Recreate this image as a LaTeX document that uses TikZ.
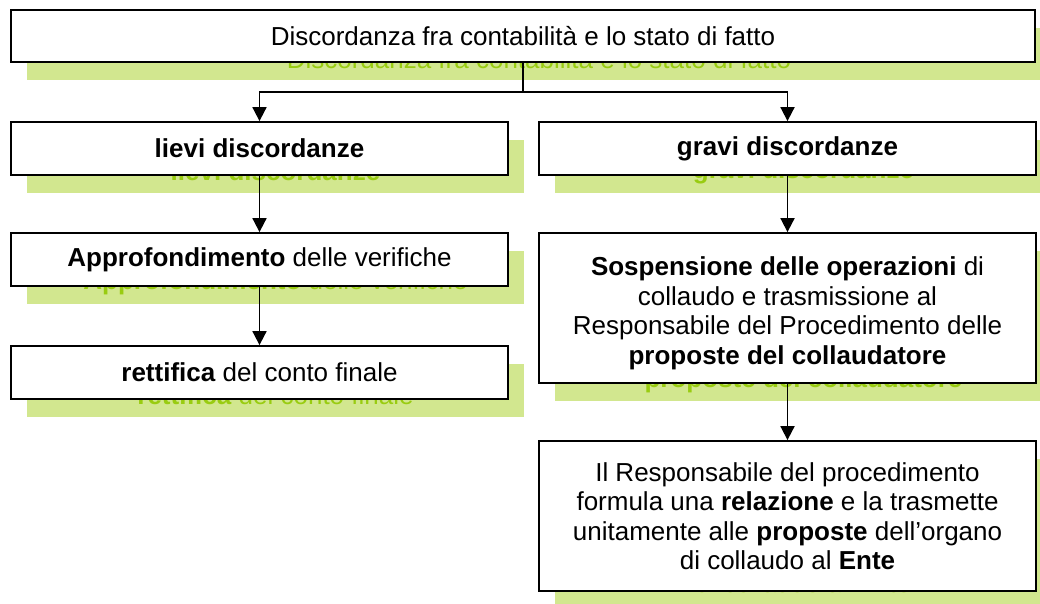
\documentclass[tikz,border=0pt]{standalone}
\usepackage{fontspec}
\setmainfont{Liberation Sans}
\usetikzlibrary{arrows.meta}
\definecolor{shadowgreen}{HTML}{D2E78F}
\definecolor{textgreen}{HTML}{99CC11}

\begin{document}
\begin{tikzpicture}[x=1pt, y=-1pt,
    flowbox/.style={draw, line width=1.8pt, fill=white, align=center, inner sep=0pt,
      minimum width=497pt, minimum height=53pt, font=\fontsize{26}{29.5}\selectfont},
    greenshadow/.style={flowbox, draw=none, fill=none, text=textgreen,
      preaction={fill=shadowgreen, transform canvas={yshift=5pt}}},
    link/.style={line width=1.8pt, -{Triangle[width=14pt,length=14pt]}}]
        \useasboundingbox (0,0) rectangle (1040,604);

        % Shadows
        \node[greenshadow, minimum width=1024pt, minimum height=52pt] at (539,59) {Discordanza fra contabilità e lo stato di fatto};
        \node[greenshadow] at (275.5,171.5) {\textbf{lievi discordanze}};
        \node[greenshadow] at (803.5,171.5) {\textbf{gravi discordanze}};
        \node[greenshadow] at (275.5,282.5) {\textbf{Approfondimento} delle verifiche};
        \node[greenshadow] at (275.5,395.5) {\textbf{rettifica} del conto finale};
        \node[greenshadow, minimum height=150pt] at (803.5,331) {\rule{0pt}{29pt}\textbf{Sospensione delle operazioni} di\\ collaudo e trasmissione al\\ Responsabile del Procedimento delle\\ \textbf{proposte del collaudatore}};
        \node[greenshadow, minimum height=150pt] at (803.5,539) {Il Responsabile del procedimento\\ formula una \textbf{relazione} e la trasmette\\ unitamente alle \textbf{proposte} dell'organo\\ di collaudo al \textbf{Ente}};

        % Boxes
        \node[flowbox, minimum width=1024pt, minimum height=52pt] (discordanza) at (523,36) {Discordanza fra contabilità e lo stato di fatto};
        \node[flowbox] (lievi) at (259.5,148.5) {\textbf{lievi discordanze}};
        \node[flowbox] (gravi) at (787.5,148.5) {\textbf{gravi discordanze}};
        \node[flowbox] (approfondimento) at (259.5,259.5) {\textbf{Approfondimento} delle verifiche};
        \node[flowbox] (rettifica) at (259.5,372.5) {\textbf{rettifica} del conto finale};
        \node[flowbox, minimum height=150pt] (sospensione) at (787.5,308) {\rule{0pt}{29pt}\textbf{Sospensione delle operazioni} di\\ collaudo e trasmissione al\\ Responsabile del Procedimento delle\\ \textbf{proposte del collaudatore}};
        \node[flowbox, minimum height=150pt] (relazione) at (787.5,516) {Il Responsabile del procedimento\\ formula una \textbf{relazione} e la trasmette\\ unitamente alle \textbf{proposte} dell'organo\\ di collaudo al \textbf{Ente}};

        % Connectors
        \coordinate (split) at (523,92);
        \draw[line width=1.8pt] (discordanza.south) -- (split);
        \draw[link] (split) -| (lievi.north);
        \draw[link] (split) -| (gravi.north);
        \draw[link] (lievi) -- (approfondimento);
        \draw[link] (approfondimento) -- (rettifica);
        \draw[link] (gravi) -- (sospensione);
        \draw[link] (sospensione) -- (relazione);
\end{tikzpicture}
\end{document}
